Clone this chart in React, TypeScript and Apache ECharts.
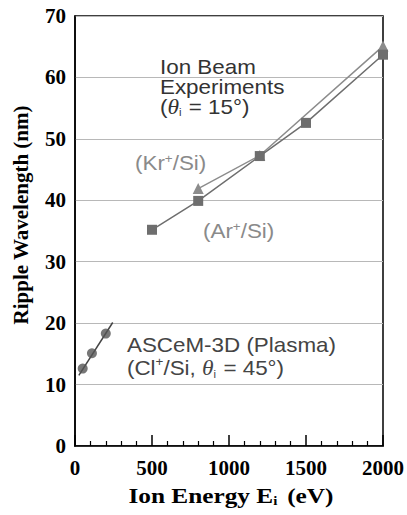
import React, { useEffect, useRef } from "react";
import * as echarts from "echarts";

const arEnergy = [500, 800, 1200, 1500, 2000];
const arWavelength = [35.2, 39.9, 47.2, 52.6, 63.7];
const krEnergy = [800, 1200, 2000];
const krWavelength = [41.9, 47.3, 65.1];
const plasmaEnergy = [50, 110, 200];
const plasmaWavelength = [12.6, 15.1, 18.3];
const plasmaFitEnergy = [25, 245];
const plasmaFitWavelength = [11.5, 20.1];

const serif = "'Liberation Serif', 'Times New Roman', serif";
const sans = "'Liberation Sans', Arial, sans-serif";
const SX = 1.12;

export default function App() {
  const ref = useRef<HTMLDivElement>(null);
  useEffect(() => {
    if (!ref.current) return;
    const chart = echarts.init(ref.current, undefined, { renderer: "svg" });
    const zip = (xs: number[], ys: number[]) => xs.map((x, i) => [x, ys[i]]);
    const dark = "#333";
    const light = "#8a8a8a";
    const richFor = (c: string) => ({
      p: { fontFamily: sans, fontSize: 12, fill: c, verticalAlign: "top", padding: [0, 0, 8, 0] },
      t: { fontFamily: serif, fontStyle: "italic", fontSize: 21, fill: c },
      s: { fontFamily: sans, fontSize: 10, fill: c, verticalAlign: "bottom", padding: [9, 1, 0, 0] },
    });
    chart.setOption({
      animation: false,
      backgroundColor: "#fff",
      grid: {
        left: 75,
        right: 22,
        top: 16,
        bottom: 69,
        show: true,
        borderColor: "#000",
        borderWidth: 1.5,
        backgroundColor: "transparent",
      },
      xAxis: {
        type: "value",
        min: 0,
        max: 2000,
        interval: 500,
        axisLine: { show: true, lineStyle: { color: "#000", width: 1.5 } },
        axisTick: { show: true, inside: true, length: 11, lineStyle: { color: "#000", width: 1.5 } },
        minorTick: { show: true, splitNumber: 5, length: 5, lineStyle: { color: "#000", width: 1.2 } },
        splitLine: { show: false },
        axisLabel: {
          color: "#000",
          fontFamily: serif,
          fontWeight: "bold",
          fontSize: 21,
          margin: 11,
          formatter: (v: number) => String(v),
        },
      },
      yAxis: {
        type: "value",
        min: 0,
        max: 70,
        interval: 10,
        axisLine: { show: true, lineStyle: { color: "#000", width: 1.5 } },
        axisTick: { show: false },
        splitLine: { show: true, lineStyle: { color: "#b8b8b8", width: 1.2 } },
        axisLabel: {
          color: "#000",
          fontFamily: serif,
          fontWeight: "bold",
          fontSize: 21,
          margin: 9,
          formatter: (v: number) => String(v),
        },
      },
      series: [
        {
          name: "Ar+/Si",
          type: "line",
          data: zip(arEnergy, arWavelength),
          symbol: "rect",
          symbolSize: 10,
          itemStyle: { color: "#6e6e6e" },
          lineStyle: { color: "#6e6e6e", width: 1.5 },
          z: 3,
        },
        {
          name: "Kr+/Si",
          type: "line",
          data: zip(krEnergy, krWavelength),
          symbol: "triangle",
          symbolSize: 11,
          itemStyle: { color: "#8c8c8c" },
          lineStyle: { color: "#8c8c8c", width: 1.5 },
          z: 2,
        },
        {
          name: "Plasma fit",
          type: "line",
          data: zip(plasmaFitEnergy, plasmaFitWavelength),
          symbol: "none",
          lineStyle: { color: "#444", width: 1.5 },
          z: 2,
        },
        {
          name: "Plasma",
          type: "scatter",
          data: zip(plasmaEnergy, plasmaWavelength),
          symbol: "circle",
          symbolSize: 10,
          itemStyle: { color: "#555" },
          z: 3,
        },
      ],
      graphic: [
        {
          type: "text",
          x: 21,
          y: 215,
          rotation: Math.PI / 2,
          scaleX: 1.05,
          silent: true,
          style: {
            text: "Ripple Wavelength (nm)",
            fill: "#000",
            font: `bold 20px ${serif}`,
            textAlign: "center",
            textVerticalAlign: "middle",
          },
        },
        {
          type: "text",
          x: 231,
          y: 496,
          scaleX: 1.15,
          silent: true,
          style: {
            text: "{a|Ion Energy E}{s|i}{a| (eV)}",
            textAlign: "center",
            textVerticalAlign: "middle",
            rich: {
              a: { fontFamily: serif, fontWeight: "bold", fontSize: 22, fill: "#000" },
              s: { fontFamily: serif, fontWeight: "bold", fontSize: 13, fill: "#000", verticalAlign: "bottom", padding: [10, 3, 0, 0] },
            },
          },
        },
        {
          type: "text",
          x: 160,
          y: 87,
          scaleX: SX,
          silent: true,
          style: {
            text: "Ion Beam\nExperiments\n({t|θ}{s|i} = 15°)",
            fill: dark,
            font: `20px ${sans}`,
            lineHeight: 20,
            textVerticalAlign: "middle",
            rich: richFor(dark),
          },
        },
        {
          type: "text",
          x: 135,
          y: 163,
          scaleX: SX,
          silent: true,
          style: {
            text: "(Kr{p|+}/Si)",
            fill: light,
            font: `20px ${sans}`,
            textVerticalAlign: "middle",
            rich: richFor(light),
          },
        },
        {
          type: "text",
          x: 203,
          y: 231,
          scaleX: SX,
          silent: true,
          style: {
            text: "(Ar{p|+}/Si)",
            fill: light,
            font: `20px ${sans}`,
            textVerticalAlign: "middle",
            rich: richFor(light),
          },
        },
        {
          type: "text",
          x: 127,
          y: 356,
          scaleX: SX,
          silent: true,
          style: {
            text: "ASCeM-3D (Plasma)\n(Cl{p|+}/Si, {t|θ}{s|i} = 45°)",
            fill: "#444",
            font: `20px ${sans}`,
            lineHeight: 23,
            textVerticalAlign: "middle",
            rich: richFor("#444"),
          },
        },
      ],
    });
    return () => chart.dispose();
  }, []);
  return (
    <div
      ref={ref}
      style={{ position: "fixed", left: 0, top: 0, width: 407, height: 515, background: "#fff" }}
    />
  );
}
